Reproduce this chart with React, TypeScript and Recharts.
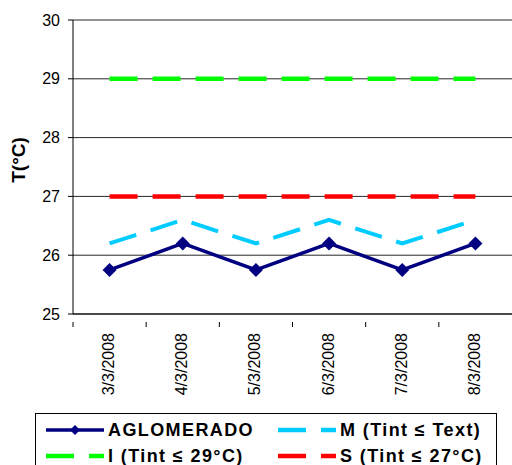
import React from 'react';
import { LineChart, Line, XAxis, YAxis, CartesianGrid, Label } from 'recharts';

const dates = ['3/3/2008', '4/3/2008', '5/3/2008', '6/3/2008', '7/3/2008', '8/3/2008'];
const aglomerado = [25.75, 26.2, 25.75, 26.2, 25.75, 26.2];
const mLimit = [26.2, 26.6, 26.2, 26.6, 26.2, 26.6];
const iLimit = [29, 29, 29, 29, 29, 29];
const sLimit = [27, 27, 27, 27, 27, 27];
const yTicks = [25, 26, 27, 28, 29, 30];

const NAVY = '#000080';
const CYAN = '#00CCFF';
const GREEN = '#00FF00';
const RED = '#FF0000';
const FONT = 'Arial, "Liberation Sans", sans-serif';

const W = 512;
const H = 465;
const X_H = 20;
const M = { top: 20, right: 0, bottom: 151 - X_H, left: 25 };
const Y_W = 48;
const BAND = (W - M.left - Y_W - M.right) / dates.length;

const data = dates.map((d, i) => ({
    date: d,
    aglomerado: aglomerado[i],
    m: mLimit[i],
    i: iLimit[i],
    s: sLimit[i],
}));

// diamond marker
const Diamond = ({ cx, cy }: any) => {
    if (cx == null || cy == null) return null;
    const r = 7;
    return <path d={`M${cx},${cy - r}L${cx + r},${cy}L${cx},${cy + r}L${cx - r},${cy}Z`} fill={NAVY} />;
};

// labels at band centres, tick marks at band edges (Excel style)
const DateTick = ({ x, y, payload }: any) => (
    <g>
        <line x1={x - BAND / 2} x2={x - BAND / 2} y1={y} y2={y + 5} stroke="#000" />
        <text
            transform={`translate(${x - 1},${y + 11}) rotate(-90)`}
            textAnchor="end"
            dominantBaseline="central"
            fontSize={16}
            fontFamily={FONT}
            fill="#000"
        >
            {payload.value}
        </text>
    </g>
);

const YLabel = () => (
    <text
        transform="translate(18,160) rotate(-90)"
        textAnchor="middle"
        dominantBaseline="central"
        fontSize={19}
        fontWeight="bold"
        fontFamily={FONT}
        fill="#000"
    >
        T(°C)
    </text>
);

const LegendIcon = ({ color, dashed, marker, width }: any) => (
    <svg width={60} height={10} style={{ position: 'absolute', left: 0, top: -5 }}>
        <line
            x1={0} x2={width} y1={5} y2={5}
            stroke={color}
            strokeWidth={dashed ? 4.5 : 3.5}
            strokeDasharray={dashed ? '28 15' : undefined}
        />
        {marker && <path d="M29,0L34,5L29,10L24,5Z" fill={color} />}
    </svg>
);

const legendItems = [
    { label: 'AGLOMERADO', color: NAVY, dashed: false, marker: true, left: 10, top: 16 },
    { label: 'M (Tint ≤ Text)', color: CYAN, dashed: true, marker: false, left: 242, top: 16 },
    { label: 'I (Tint ≤ 29°C)', color: GREEN, dashed: true, marker: false, left: 10, top: 42 },
    { label: 'S (Tint ≤ 27°C)', color: RED, dashed: true, marker: false, left: 242, top: 42 },
];

export default function App() {
    return (
        <div style={{ position: 'absolute', left: 0, top: 0, width: W, height: H, overflow: 'hidden', background: '#fff' }}>
            <LineChart width={W} height={H} data={data} margin={M}>
                <CartesianGrid vertical={false} stroke="#000" strokeOpacity={0.85} />
                <XAxis
                    dataKey="date"
                    scale="band"
                    tick={<DateTick />}
                    tickLine={false}
                    axisLine={{ stroke: '#000' }}
                    interval={0}
                    height={X_H}
                />
                <YAxis
                    domain={[25, 30]}
                    ticks={yTicks}
                    width={Y_W}
                    tickSize={5}
                    tickMargin={8}
                    tick={{ fontSize: 16, fill: '#000', fontFamily: FONT }}
                    tickLine={{ stroke: '#000' }}
                    axisLine={{ stroke: '#000' }}
                >
                    <Label content={<YLabel />} />
                </YAxis>
                <Line dataKey="aglomerado" stroke={NAVY} strokeWidth={3.5} dot={<Diamond />} isAnimationActive={false} />
                <Line dataKey="m" stroke={CYAN} strokeWidth={4} strokeDasharray="28 15" dot={false} isAnimationActive={false} />
                <Line dataKey="i" stroke={GREEN} strokeWidth={4.5} strokeDasharray="28 15" dot={false} isAnimationActive={false} />
                <Line dataKey="s" stroke={RED} strokeWidth={4.5} strokeDasharray="28 15" dot={false} isAnimationActive={false} />
            </LineChart>
            <div
                style={{
                    position: 'absolute',
                    left: 35,
                    top: 413,
                    width: 462,
                    height: 70,
                    border: '1px solid #000',
                    boxSizing: 'border-box',
                    fontFamily: FONT,
                    fontWeight: 'bold',
                    fontSize: 18,
                    letterSpacing: 1.4,
                }}
            >
                {legendItems.map((it) => (
                    <div key={it.label} style={{ position: 'absolute', left: it.left, top: it.top, height: 0 }}>
                        <LegendIcon color={it.color} dashed={it.dashed} marker={it.marker} width={58} />
                        <span style={{ position: 'absolute', left: 62, top: -11, whiteSpace: 'nowrap', lineHeight: '22px' }}>
                            {it.label}
                        </span>
                    </div>
                ))}
            </div>
        </div>
    );
}
